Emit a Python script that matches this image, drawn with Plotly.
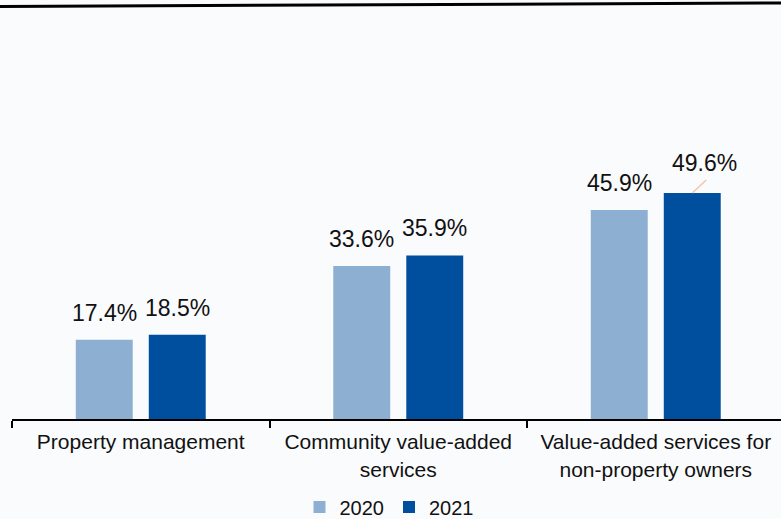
import plotly.graph_objects as go

# Share of revenue by business segment, 2020 vs 2021 (%)
categories = [
    "Property management",
    "Community value-added<br>services",
    "Value-added services for<br>non-property owners",
]
years = ["2020", "2021"]
values_2020 = [17.4, 33.6, 45.9]
values_2021 = [18.5, 35.9, 49.6]

colors = {"2020": "#8DAFD2", "2021": "#004F9F"}

W, H = 781, 519
ML, MR, MT, MB = 12, 0, 30, 100
plot_w = W - ML - MR
plot_h = H - MT - MB
px_per_unit_y = 4.556
y_max = plot_h / px_per_unit_y
cat_px = 257.5
x_max = -0.5 + plot_w / cat_px

bargap = 0.433
bargroupgap = 0.22
slot = (1 - bargap) / 2
offset = slot / 2

fig = go.Figure()
for year, vals in zip(years, [values_2020, values_2021]):
    fig.add_trace(go.Bar(
        x=categories, y=vals, name=year,
        marker=dict(color=colors[year], line=dict(width=0)),
        hoverinfo="skip",
    ))

# Value labels above each bar
annotations = []
for i in range(len(categories)):
    for j, vals in enumerate([values_2020, values_2021]):
        v = vals[i]
        xc = i + (offset if j == 1 else -offset)
        shifted = (i == 2 and j == 1)
        annotations.append(dict(
            x=xc, y=v, xref="x", yref="y",
            text=f"{v}%", showarrow=False,
            yanchor="middle", xanchor="center",
            yshift=30 if shifted else 27,
            xshift=12 if shifted else 0,
            font=dict(size=23, color="#111111", family="Liberation Sans, Arial"),
        ))

shapes = [
    # leader line for the displaced label
    dict(type="line", xref="x", yref="y",
         x0=2 + offset, y0=values_2021[2],
         x1=2 + offset + 14 / cat_px, y1=values_2021[2] + 13 / px_per_unit_y,
         line=dict(color="#F3C6A5", width=1.5)),
    # heavy rule across the top
    dict(type="line", xref="paper", yref="paper",
         x0=-ML / plot_w, y0=(plot_h + MT - 6.5) / plot_h,
         x1=1.0, y1=(plot_h + MT - 3) / plot_h,
         line=dict(color="#000000", width=3)),
]

fig.update_layout(
    width=W, height=H,
    margin=dict(l=ML, r=MR, t=MT, b=MB, pad=0, autoexpand=False),
    paper_bgcolor="#FAFBFD",
    plot_bgcolor="rgba(0,0,0,0)",
    barmode="group",
    bargap=bargap,
    bargroupgap=bargroupgap,
    font=dict(family="Liberation Sans, Arial", color="#111111"),
    showlegend=True,
    legend=dict(
        orientation="h", x=(389 - ML) / plot_w, xanchor="center",
        y=-(507 - (MT + plot_h)) / plot_h, yanchor="middle",
        font=dict(size=20), itemwidth=30, tracegroupgap=0,
        bgcolor="rgba(0,0,0,0)",
    ),
    annotations=annotations,
    shapes=shapes,
    xaxis=dict(
        range=[-0.5, x_max],
        automargin=False,
        showline=True, linecolor="#000000", linewidth=2,
        ticks="outside", tickson="boundaries", ticklen=7, tickwidth=1.5,
        tickcolor="#000000", ticklabelstandoff=3,
        tickfont=dict(size=21, color="#111111"),
        showgrid=False, zeroline=False, fixedrange=True,
    ),
    yaxis=dict(
        range=[0, y_max], visible=False, showgrid=False, zeroline=False,
        fixedrange=True, automargin=False,
    ),
)

fig.write_html("out.html")
